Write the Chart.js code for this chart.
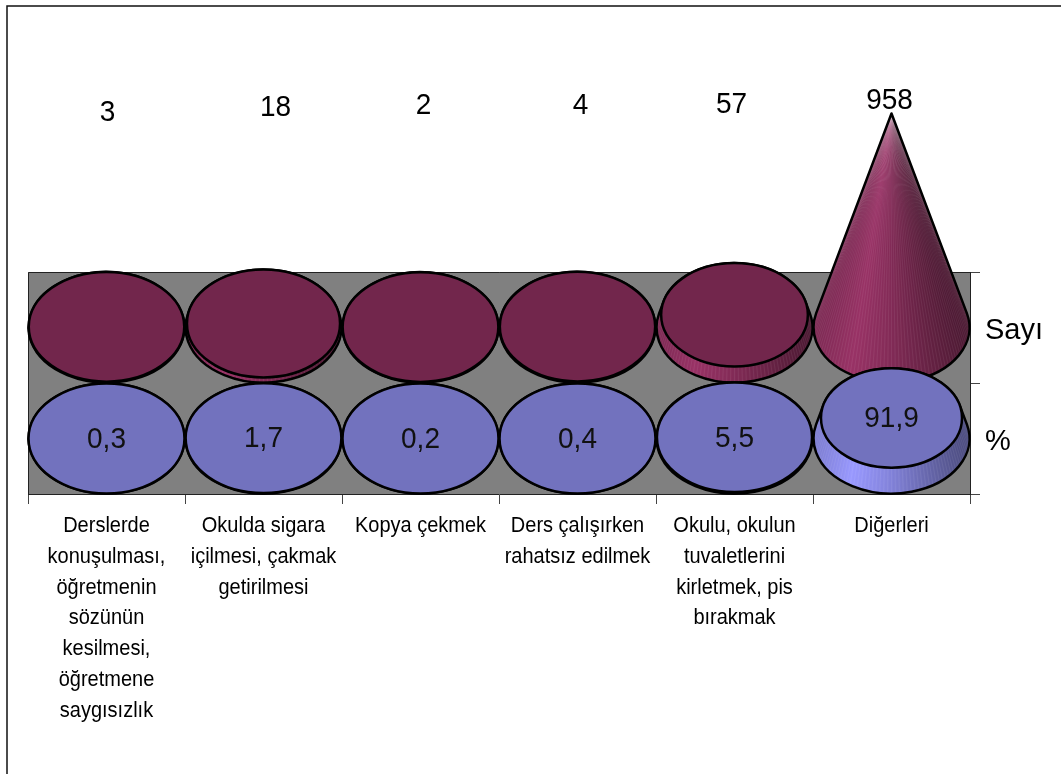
<!DOCTYPE html>
<html>
<head>
<meta charset="utf-8">
<style>html,body{margin:0;padding:0;background:#fff}canvas{display:block}</style>
<script src="https://cdn.jsdelivr.net/npm/chart.js@4"></script>
</head>
<body>
<canvas id="c" width="1061" height="774"></canvas>
<script>
const categories = [
  ['Derslerde','konuşulması,','öğretmenin','sözünün','kesilmesi,','öğretmene','saygısızlık'],
  ['Okulda sigara','içilmesi, çakmak','getirilmesi'],
  ['Kopya çekmek'],
  ['Ders çalışırken','rahatsız edilmek'],
  ['Okulu, okulun','tuvaletlerini','kirletmek, pis','bırakmak'],
  ['Diğerleri']
];
const rowLabels = ['Sayı','%'];
const sayiValues = [3,18,2,4,57,958];
const yuzdeValues = [0.3,1.7,0.2,0.4,5.5,91.9];
// label placement nudges (style only)
const sayiLabelDx = [1,12,3,3,-3,-2];
const sayiLabelY = [112,107,105,105,104,100];

const FONT = '"Liberation Sans", Arial, sans-serif';
const coneMax = Math.max(...sayiValues);
const shadeStops = [[0,.82],[.25,1],[.5,.86],[.75,.68],[1,.5]];
function shade(u){
  for(let i=1;i<shadeStops.length;i++){
    if(u<=shadeStops[i][0]){
      const a=shadeStops[i-1],b=shadeStops[i];
      return a[1]+(b[1]-a[1])*(u-a[0])/(b[0]-a[0]);
    }
  }
  return .5;
}
const rgb=(c,f)=>`rgb(${Math.round(c[0]*f)},${Math.round(c[1]*f)},${Math.round(c[2]*f)})`;

function drawCone(ctx,cx,cy,R,r,h,v,base){
  const full = h(coneMax), k = 1 - v/coneMax, lift = h(v);
  const Rt=R*k, rt=r*k, cyt=cy-lift;
  const t0=-Math.asin(r/full), t1=Math.PI-t0, N=72;
  const step=(t1-t0)/N;
  for(let i=N-1;i>=0;i--){
    const a=t0+step*i, b=Math.min(t1,a+step*1.6), m=a+step/2;
    ctx.fillStyle=rgb(base,shade((1+Math.cos(m))/2));
    ctx.beginPath();
    ctx.moveTo(cx+R*Math.cos(a),cy+r*Math.sin(a));
    ctx.lineTo(cx+R*Math.cos(b),cy+r*Math.sin(b));
    ctx.lineTo(cx+Rt*Math.cos(b),cyt+rt*Math.sin(b));
    ctx.lineTo(cx+Rt*Math.cos(a),cyt+rt*Math.sin(a));
    ctx.closePath();
    ctx.fill();
  }
  // faint facet seams
  ctx.strokeStyle='rgba(255,255,255,.13)';ctx.lineWidth=.5;
  for(let i=1;i<N;i++){
    const a=t0+step*i;
    ctx.beginPath();
    ctx.moveTo(cx+R*Math.cos(a),cy+r*Math.sin(a));
    ctx.lineTo(cx+Rt*Math.cos(a),cyt+rt*Math.sin(a));
    ctx.stroke();
  }
  ctx.strokeStyle='#000';ctx.lineWidth=2.5;ctx.lineJoin='round';
  ctx.beginPath();
  ctx.ellipse(cx,cy,R,r,0,t0,t1);
  ctx.lineTo(cx+Rt*Math.cos(t1),cyt+rt*Math.sin(t1));
  if(k>0.001){ctx.ellipse(cx,cyt,Rt,rt,0,t1,t0+2*Math.PI);}
  ctx.closePath();
  ctx.stroke();
  if(k>0.001){
    ctx.fillStyle=rgb(base,.745);
    ctx.beginPath();ctx.ellipse(cx,cyt,Rt,rt,0,0,2*Math.PI);ctx.fill();ctx.stroke();
  }
  return cyt;
}

// Tick text in the reference is slightly stretched vertically.
function stretchLabels(s,pivot,factor,dy){
  if(s._stretched) return;
  s._stretched=true;
  const orig=s.drawLabels;
  s.drawLabels=function(area){
    const ctx=this.ctx;
    ctx.save();
    ctx.translate(0,pivot+dy);ctx.scale(1,factor);ctx.translate(0,-pivot);
    orig.call(this,area);
    ctx.restore();
  };
}
function tallText(ctx,text,x,y){
  ctx.save();
  ctx.translate(x,y);ctx.scale(1,1.08);
  ctx.fillText(text,0,0);
  ctx.restore();
}

const conePlugin={
  id:'cones',
  beforeDraw(chart){
    const {ctx,chartArea:a}=chart;
    ctx.save();
    ctx.fillStyle='#fff';ctx.fillRect(0,0,chart.width,chart.height);
    ctx.fillStyle='#808080';ctx.fillRect(a.left,a.top,a.right-a.left,a.bottom-a.top);
    ctx.strokeStyle='#222';ctx.lineWidth=1;
    ctx.beginPath();ctx.moveTo(a.right,a.top+.5);ctx.lineTo(a.left+.5,a.top+.5);ctx.lineTo(a.left+.5,a.bottom);ctx.stroke();
    ctx.strokeStyle='#111';ctx.lineWidth=1.5;
    ctx.beginPath();ctx.moveTo(7,chart.height);ctx.lineTo(7,6);ctx.lineTo(chart.width,6);ctx.stroke();
    ctx.restore();
  },
  afterDatasetsDraw(chart){
    const {ctx,scales}=chart, x=scales.x, row=scales.row, v=scales.v;
    const h=val=>v.getPixelForValue(0)-v.getPixelForValue(val);
    const R=(x.getPixelForValue(1)-x.getPixelForValue(0))/2;
    const r=(row.getPixelForValue(1)-row.getPixelForValue(0))/2;
    const bases=[[153,51,102],[153,153,255]];
    ctx.save();
    const tops=[];
    chart.data.datasets.forEach((ds,d)=>{
      tops[d]=ds.data.map((val,i)=>drawCone(ctx,x.getPixelForValue(i),row.getPixelForValue(d),R-.5,r-.5,h,val,bases[d]));
    });
    ctx.font='28px '+FONT;ctx.textAlign='center';ctx.textBaseline='middle';ctx.fillStyle='#000';
    sayiValues.forEach((val,i)=>tallText(ctx,String(val),x.getPixelForValue(i)+sayiLabelDx[i],sayiLabelY[i]+1));
    ctx.fillStyle='#111';
    yuzdeValues.forEach((val,i)=>tallText(ctx,String(val).replace('.',','),x.getPixelForValue(i),tops[1][i]+1));
    ctx.restore();
  }
};

new Chart(document.getElementById('c'),{
  type:'bar',
  plugins:[conePlugin],
  data:{
    labels:categories,
    datasets:[
      {label:'Sayı',data:sayiValues,yAxisID:'v',backgroundColor:'transparent',borderWidth:0},
      {label:'%',data:yuzdeValues,yAxisID:'v',backgroundColor:'transparent',borderWidth:0}
    ]
  },
  options:{
    responsive:false,animation:false,devicePixelRatio:1,
    layout:{padding:{left:28,top:272,right:0,bottom:0}},
    plugins:{legend:{display:false},tooltip:{enabled:false},title:{display:false}},
    scales:{
      x:{
        type:'category',position:'bottom',offset:true,
        grid:{offset:true,drawOnChartArea:false,tickLength:10,color:'#444'},
        border:{color:'#222'},
        ticks:{autoSkip:false,maxRotation:0,minRotation:0,color:'#000',padding:8,font:{family:FONT,size:20,lineHeight:1.365}},
        afterFit(s){s.height=774-494;stretchLabels(s,526,1.13,0);}
      },
      row:{
        type:'category',position:'right',labels:rowLabels,offset:true,
        grid:{offset:true,drawOnChartArea:false,tickLength:10,color:'#444'},
        border:{color:'#222'},
        ticks:{color:'#000',padding:5,font:{family:FONT,size:29},crossAlign:'near'},
        afterFit(s){s.width=1061-970;stretchLabels(s,383,1,3);}
      },
      v:{type:'linear',display:false,min:0,max:994}
    }
  }
});
</script>
</body>
</html>
